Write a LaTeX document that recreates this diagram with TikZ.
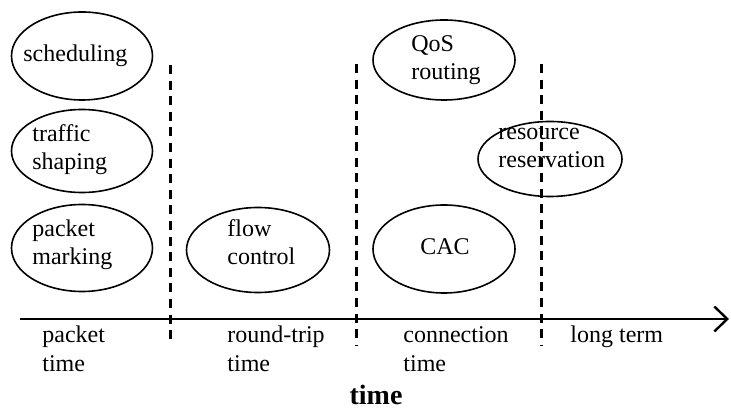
\documentclass[tikz,border=0pt]{standalone}
\usepackage{fontspec}
\setmainfont{Liberation Serif}
\usetikzlibrary{shapes.geometric,arrows.meta}
\begin{document}
\begin{tikzpicture}[x=0.5pt,y=-0.5pt,
  mech/.style={draw,ellipse,line width=0.8pt,inner sep=0pt,outer sep=0pt},
  lbl/.style={anchor=base west,inner sep=0pt,font=\fontsize{12}{14}\selectfont},
  boundary/.style={line width=1.5pt,dash pattern=on 4.5pt off 3.3pt},
  axisline/.style={line width=1.3pt,-{Straight Barb[length=6.5pt,width=12.5pt,line width=1.2pt]}}]
\useasboundingbox (0,0) rectangle (731,410);

% time-scale boundaries
\coordinate (b1t) at (170,65);  \coordinate (b1b) at (170,345);
\coordinate (b2t) at (356,64);  \coordinate (b2b) at (356,345);
\coordinate (b3t) at (541,64);  \coordinate (b3b) at (541,345);
\draw[boundary] (b1t) -- (b1b);
\draw[boundary] (b2t) -- (b2b);
\draw[boundary] (b3t) -- (b3b);

% time axis
\coordinate (ax0) at (20,319);
\coordinate (ax1) at (729,319);
\draw[axisline] (ax0) -- (ax1);

% mechanisms
\node[mech,minimum width=70.5pt,minimum height=44pt] (sched) at (82,56) {};
\node[mech,minimum width=70.5pt,minimum height=41.5pt] (shape) at (82,151) {};
\node[mech,minimum width=70.5pt,minimum height=43.5pt] (mark) at (82,248) {};
\node[mech,minimum width=71.5pt,minimum height=42.5pt] (flow) at (258,250) {};
\node[mech,minimum width=71pt,minimum height=40pt] (qos) at (444,60) {};
\node[mech,minimum width=72pt,minimum height=37.5pt] (resv) at (550,159) {};
\node[mech,minimum width=71pt,minimum height=44pt] (cac) at (444,249) {};

\node[lbl] (t-sched) at (23,62) {scheduling};
\node[lbl] (t-shape1) at (32,142) {traffic};
\node[lbl] (t-shape2) at (32,170) {shaping};
\node[lbl] (t-mark1) at (32,237) {packet};
\node[lbl] (t-mark2) at (32,265) {marking};
\node[lbl] (t-flow1) at (227,237) {flow};
\node[lbl] (t-flow2) at (227,265) {control};
\node[lbl] (t-qos1) at (411,52) {QoS};
\node[lbl] (t-qos2) at (411,80) {routing};
\node[lbl] (t-resv1) at (498,140) {resource};
\node[lbl] (t-resv2) at (498,168) {reservation};
\node[lbl] (t-cac) at (420,255) {CAC};

% time-scale names
\node[lbl] (s-pkt1) at (42,343) {packet};
\node[lbl] (s-pkt2) at (42,371) {time};
\node[lbl] (s-rtt1) at (227,343) {round-trip};
\node[lbl] (s-rtt2) at (227,371) {time};
\node[lbl] (s-con1) at (403,343) {connection};
\node[lbl] (s-con2) at (403,371) {time};
\node[lbl] (s-long) at (570,343) {long term};

\node[anchor=base,inner sep=0pt,font=\fontsize{14}{16}\selectfont\bfseries] (axname) at (376,404) {time};
\end{tikzpicture}
\end{document}
